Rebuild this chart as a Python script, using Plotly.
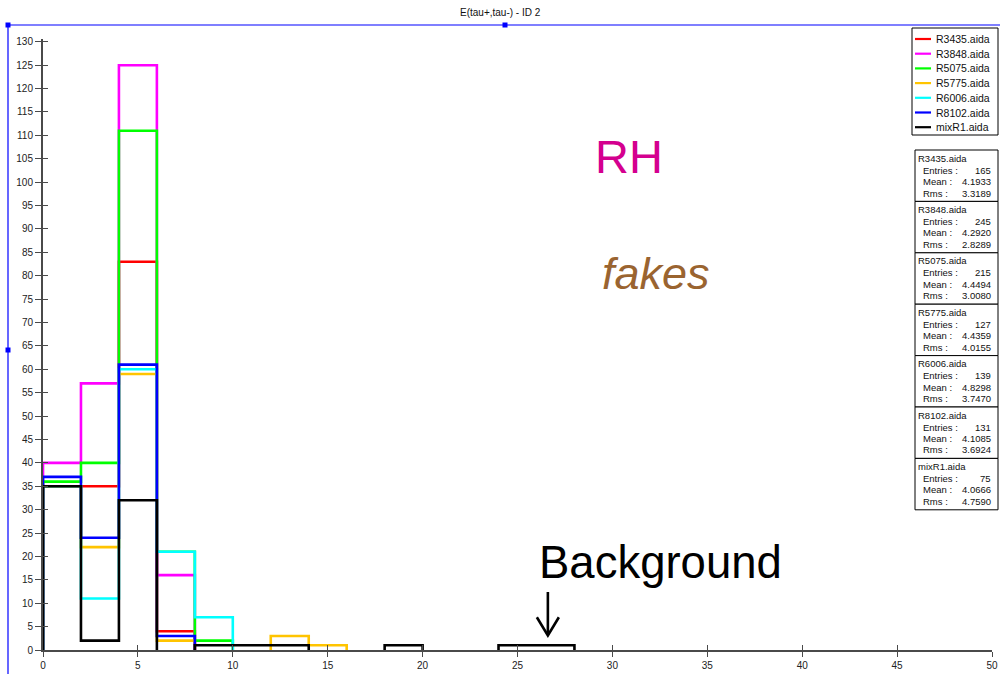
import numpy as np
import plotly.graph_objects as go

# ---------------- data ----------------
bin_edges = list(range(0, 52, 2))  # 0..50, width 2
series_names = ["R3435.aida", "R3848.aida", "R5075.aida", "R5775.aida",
                "R6006.aida", "R8102.aida", "mixR1.aida"]
series_colors = ["#ff0000", "#ff00ff", "#00ff00", "#ffc400",
                 "#00ffff", "#0000ff", "#000000"]

# counts per bin (bins 0-2, 2-4, 4-6, ...), trailing zeros omitted
r3435 = [35, 35, 83, 4]
r3848 = [40, 57, 125, 16]
r5075 = [36, 40, 111, 21, 2]
r5775 = [35, 22, 59, 2, 0, 0, 3, 1]
r6006 = [35, 11, 60, 21, 7]
r8102 = [37, 24, 61, 3]
mixr1 = [35, 2, 32, 0, 1, 1, 1, 0, 0, 1, 0, 0, 1, 1]
series_counts = [r3435, r3848, r5075, r5775, r6006, r8102, mixr1]

stat_entries = ["165", "245", "215", "127", "139", "131", "75"]
stat_means = ["4.1933", "4.2920", "4.4494", "4.4359", "4.8298", "4.1085", "4.0666"]
stat_rms = ["3.3189", "2.8289", "3.0080", "4.0155", "3.7470", "3.6924", "4.7590"]

y_ticks = list(range(0, 131, 5))
x_ticks = list(range(0, 51, 5))

# ---------------- layout geometry ----------------
W, H = 1000, 674
L, R, T, B = 43, 992, 39, 650
FONT = "Liberation Sans, Arial, Helvetica, sans-serif"


def xp(px):
    return (px - L) / (R - L)


def yp(py):
    return (B - py) / (B - T)


def step_outline(edges, counts):
    """Histogram outline; runs of empty bins are not traced along the axis."""
    xs, ys = [edges[0]], [0]
    for i, c in enumerate(counts):
        if c > 0:
            xs += [edges[i], edges[i + 1]]
            ys += [c, c]
        else:
            xs += [edges[i], None, edges[i + 1]]
            ys += [0, None, 0]
    xs.append(edges[len(counts)])
    ys.append(0)
    return xs, ys


fig = go.Figure()

for name, color, counts in zip(series_names, series_colors, series_counts):
    xs, ys = step_outline(bin_edges, counts)
    fig.add_trace(go.Scatter(
        x=xs, y=ys, mode="lines", line=dict(color=color, width=2.6),
        connectgaps=False, name=name, showlegend=False, hoverinfo="skip"))

axis_color = "#4a4a4a"
fig.update_layout(
    width=W, height=H,
    margin=dict(l=L, r=W - R, t=T, b=H - B, pad=0, autoexpand=False),
    paper_bgcolor="white", plot_bgcolor="white",
    showlegend=False,
    font=dict(family=FONT, size=10, color="#222"),
    xaxis=dict(range=[0, 50], tickvals=x_ticks, ticks="outside", ticklen=5,
               tickwidth=1.3, tickcolor=axis_color, showline=True, automargin=False,
               linecolor=axis_color, linewidth=1.5, showgrid=False,
               zeroline=False, tickfont=dict(size=10, family=FONT, color="#222")),
    yaxis=dict(range=[0, 130.6], tickvals=y_ticks, ticks="outside", ticklen=6,
               tickwidth=1.3, tickcolor=axis_color, showline=True, automargin=False,
               linecolor=axis_color, linewidth=2, showgrid=False,
               zeroline=False, tickfont=dict(size=10, family=FONT, color="#222")),
    xaxis2=dict(range=[0, 50], tickvals=x_ticks, ticks="inside", ticklen=5,
                tickwidth=1.3, tickcolor=axis_color, showticklabels=False,
                showline=False, showgrid=False, zeroline=False, automargin=False,
                overlaying="x", anchor="y", side="bottom"),
    yaxis2=dict(range=[0, 130.6], tickvals=y_ticks, ticks="inside", ticklen=5,
                tickwidth=1.3, tickcolor=axis_color, showticklabels=False,
                showline=False, showgrid=False, zeroline=False, automargin=False,
                overlaying="y", anchor="x", side="left"),
)
# invisible trace to activate the overlay axes (inner tick halves)
fig.add_trace(go.Scatter(x=[None], y=[None], xaxis="x2", yaxis="y2",
                         showlegend=False, hoverinfo="skip"))

shapes = []
annotations = []

# blue selection frame
blue = "#0000ff"
shapes.append(dict(type="line", xref="paper", yref="paper", x0=xp(8), x1=xp(1000),
                   y0=yp(25), y1=yp(25), line=dict(color=blue, width=1.2)))
shapes.append(dict(type="line", xref="paper", yref="paper", x0=xp(8), x1=xp(8),
                   y0=yp(25), y1=yp(674), line=dict(color=blue, width=1.2)))
for (cx, cy) in [(8, 25), (505, 25), (8, 350)]:
    shapes.append(dict(type="rect", xref="paper", yref="paper",
                       x0=xp(cx - 2.5), x1=xp(cx + 2.5), y0=yp(cy - 2.5), y1=yp(cy + 2.5),
                       fillcolor=blue, line=dict(width=0)))

# title
annotations.append(dict(text="E(tau+,tau-) - ID 2", xref="paper", yref="paper",
                        x=xp(500), y=yp(12), xanchor="center", yanchor="middle",
                        showarrow=False, font=dict(size=10, family=FONT, color="#111")))

# legend box (manual)
shapes.append(dict(type="rect", xref="paper", yref="paper", x0=xp(912), x1=xp(998),
                   y0=yp(28), y1=yp(135), line=dict(color="#000", width=1),
                   fillcolor="white", layer="above"))
for i, (name, color) in enumerate(zip(series_names, series_colors)):
    yy = 39 + i * 14.7
    shapes.append(dict(type="line", xref="paper", yref="paper", x0=xp(915), x1=xp(931),
                       y0=yp(yy), y1=yp(yy), line=dict(color=color, width=2.2), layer="above"))
    annotations.append(dict(text=name, xref="paper", yref="paper", x=xp(934), y=yp(yy),
                            xanchor="left", yanchor="middle", showarrow=False,
                            font=dict(size=10.5, family=FONT, color="#111")))

# stats boxes
box_top, box_h = 150, 51.4
for i, name in enumerate(series_names):
    top = box_top + i * box_h
    shapes.append(dict(type="rect", xref="paper", yref="paper", x0=xp(915), x1=xp(998),
                       y0=yp(top), y1=yp(top + box_h), line=dict(color="#000", width=1),
                       fillcolor="white", layer="above"))
    annotations.append(dict(text=name, xref="paper", yref="paper", x=xp(916), y=yp(top + 8),
                            xanchor="left", yanchor="middle", showarrow=False,
                            font=dict(size=9.5, family=FONT, color="#111")))
    rows = [("Entries :", stat_entries[i]), ("Mean :", stat_means[i]), ("Rms :", stat_rms[i])]
    for j, (lab, val) in enumerate(rows):
        yy = top + 20 + j * 11.5
        annotations.append(dict(text=lab, xref="paper", yref="paper", x=xp(921), y=yp(yy),
                                xanchor="left", yanchor="middle", showarrow=False,
                                font=dict(size=9.5, family=FONT, color="#111")))
        annotations.append(dict(text=val, xref="paper", yref="paper", x=xp(993), y=yp(yy),
                                xanchor="right", yanchor="middle", showarrow=False,
                                font=dict(size=9.5, family=FONT, color="#111")))

# big labels
annotations.append(dict(text="RH", xref="paper", yref="paper", x=xp(629), y=yp(156),
                        xanchor="center", yanchor="middle", showarrow=False,
                        font=dict(size=47, family=FONT, color="#d4008f")))
annotations.append(dict(text="<i>fakes</i>", xref="paper", yref="paper", x=xp(656), y=yp(273),
                        xanchor="center", yanchor="middle", showarrow=False,
                        font=dict(size=45, family=FONT, color="#9a6430")))
annotations.append(dict(text="Background", xref="paper", yref="paper", x=xp(660), y=yp(562),
                        xanchor="center", yanchor="middle", showarrow=False,
                        font=dict(size=45.5, family=FONT, color="#000")))

# arrow pointing at background bins (data coords)
ax_x = 26.6
shapes.append(dict(type="line", xref="x", yref="y", x0=ax_x, x1=ax_x, y0=12.4, y1=3.2,
                   line=dict(color="#000", width=2.6)))
shapes.append(dict(type="path", xref="x", yref="y",
                   path=f"M {ax_x-0.58},7.0 L {ax_x},3.1 L {ax_x+0.58},7.0",
                   line=dict(color="#000", width=2.6)))

fig.update_layout(shapes=shapes, annotations=annotations)
fig.write_html("out.html")
